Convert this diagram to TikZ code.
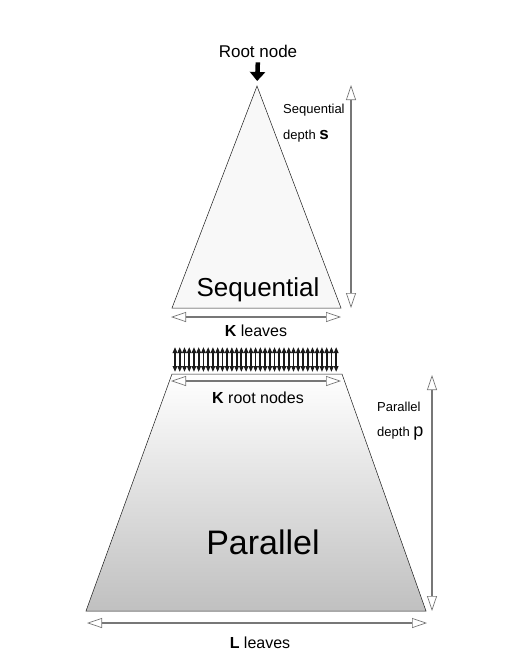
\documentclass[tikz,border=0pt]{standalone}
\usepackage{fontspec}
\setmainfont{Liberation Sans}
\usepackage{xcolor}
\usetikzlibrary{arrows.meta}
\definecolor{tdarkgray}{HTML}{1a1a1a}
\definecolor{tgray}{HTML}{777777}
\definecolor{tpale}{HTML}{f8f8f8}
\definecolor{tmid}{HTML}{ececec}
\definecolor{tshade}{HTML}{c0c0c0}

\begin{document}
\begin{tikzpicture}[x=1pt, y=-1pt,
		span/.style={color=tgray, line width=2.4pt, {Triangle[length=15pt, width=10pt, fill=white, line width=0.7pt]}-{Triangle[length=15pt, width=10pt, fill=white, line width=0.7pt]}},
		tiny/.style={color=tdarkgray, line width=1.8pt, {Triangle[length=6pt, width=4.5pt]}-{Triangle[length=6pt, width=4.5pt]}},
		lbl/.style={inner sep=0pt, anchor=base}]
		\useasboundingbox (0,0) rectangle (504,664);
		\coordinate (SA) at (257,86);
		\coordinate (SL) at (172,308);
		\coordinate (SR) at (341,308);
		\coordinate (PTL) at (172,374);
		\coordinate (PTR) at (342,374);
		\coordinate (PBL) at (86,611);
		\coordinate (PBR) at (426,611);
		\draw[color=tdarkgray, fill=tpale, line width=0.5pt] (SA) -- (SR) -- (SL) -- cycle;
		\shade[top color=white, middle color=tmid, bottom color=tshade] (PTL) -- (PTR) -- (PBR) -- (PBL) -- cycle;
		\draw[color=tdarkgray, line width=0.5pt] (PTL) -- (PTR) -- (PBR) -- (PBL) -- cycle;
		\node[lbl] (root) at (258,57) {\fontsize{17}{20}\selectfont Root node};
		\draw[color=black, line width=4.5pt, -{Triangle[length=9pt, width=15pt]}, shorten <=5pt, shorten >=5pt] (root.south) -- (SA);
		\node[lbl] (seq) at (258,296) {\fontsize{26}{30}\selectfont Sequential};
		\node[lbl] (par) at (263,554) {\fontsize{34}{40}\selectfont Parallel};
		\node[lbl, anchor=base west] (sdepth) at (283,113) {\fontsize{13}{15}\selectfont Sequential};
		\node[lbl, anchor=base west] (sdepthb) at (283,139) {\fontsize{13}{15}\selectfont depth \textbf{\fontsize{17}{17}\selectfont s}};
		\node[lbl, anchor=base west] (pdepth) at (377,411) {\fontsize{13}{15}\selectfont Parallel};
		\node[lbl, anchor=base west] (pdepthb) at (377,436) {\fontsize{13}{15}\selectfont depth {\fontsize{18}{18}\selectfont p}};
		\node[lbl] (kleaves) at (256,336) {\fontsize{16}{18}\selectfont \textbf{K} leaves};
		\node[lbl] (kroots) at (258,403) {\fontsize{16}{18}\selectfont \textbf{K} root nodes};
		\node[lbl] (lleaves) at (260,648) {\fontsize{16}{18}\selectfont \textbf{L} leaves};
		\coordinate (SDT) at (351,85);
		\coordinate (SDB) at (351,308);
		\coordinate (PDT) at (432,375);
		\coordinate (PDB) at (432,611);
		\coordinate (KLL) at (171,317);
		\coordinate (KLR) at (341,317);
		\coordinate (KRL) at (171,381);
		\coordinate (KRR) at (341,381);
		\coordinate (LLL) at (87,623);
		\coordinate (LLR) at (427,623);
		\draw[span] (SDT) -- (SDB);
		\draw[span] (PDT) -- (PDB);
		\draw[span] (KLL) -- (KLR);
		\draw[span] (KRL) -- (KRR);
		\draw[span] (LLL) -- (LLR);
		\foreach \i in {0,...,34}
			\draw[tiny] ({175+\i*4.74},347) -- ({175+\i*4.74},372);
	\end{tikzpicture}
\end{document}
